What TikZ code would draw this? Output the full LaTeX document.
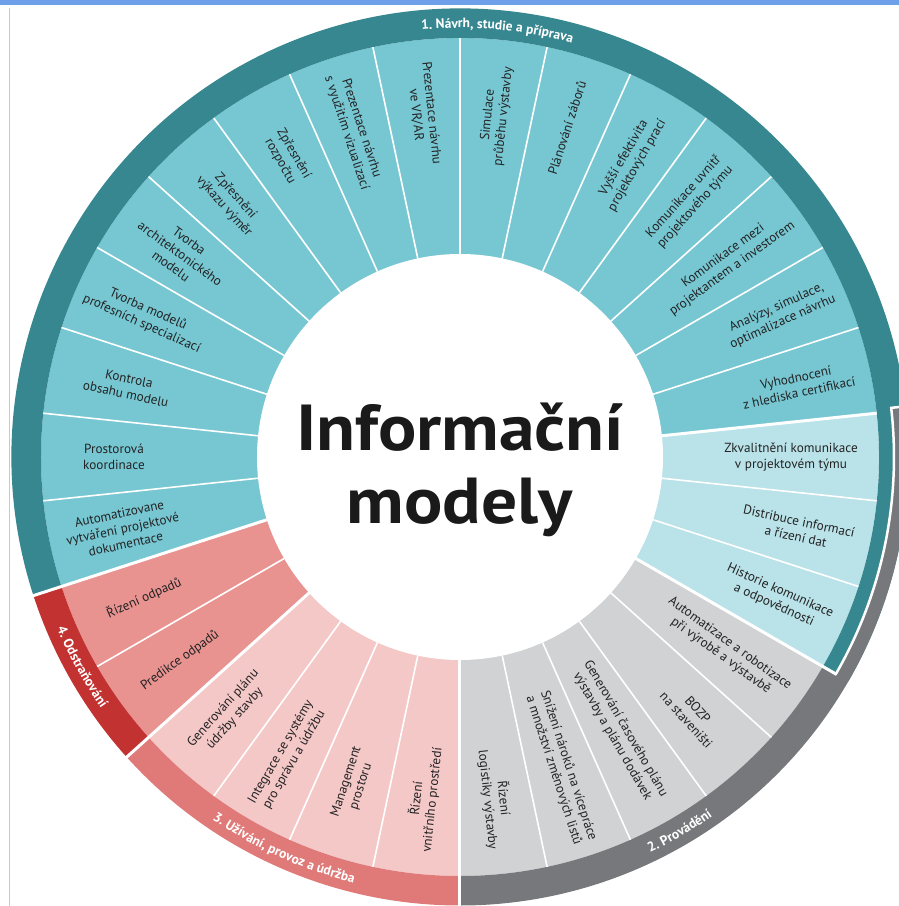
\documentclass[tikz,border=0pt]{standalone}
\usepackage{fontspec}
\setmainfont{PT Sans}
\usetikzlibrary{decorations.text}
\definecolor{segTeal}{RGB}{119,199,211}
\definecolor{segPale}{RGB}{186,226,233}
\definecolor{segGrey}{RGB}{209,210,212}
\definecolor{segPink}{RGB}{245,200,200}
\definecolor{segRed}{RGB}{233,147,145}
\definecolor{bandTeal}{RGB}{54,135,144}
\definecolor{bandGrey}{RGB}{119,120,124}
\definecolor{bandPink}{RGB}{224,122,121}
\definecolor{bandRed}{RGB}{194,50,48}
\definecolor{segText}{RGB}{35,35,35}
\definecolor{centerText}{RGB}{26,26,26}
\definecolor{topBlue}{RGB}{110,160,233}
\definecolor{leftGrey}{RGB}{200,200,200}
\newcommand{\bandfmt}{\color{white}\bfseries\fontsize{13.5}{15}\selectfont}
\begin{document}
\begin{tikzpicture}[x=1pt,y=1pt,
  seg/.style={align=center, text=segText, font=\fontsize{13.2}{15.5}\selectfont, inner sep=0pt},
  thindiv/.style={white, line width=1.6pt},
  thickdiv/.style={white, line width=3pt},
  title/.style={anchor=base, inner sep=0pt, text=centerText, xscale=1.1, transform shape, font=\bfseries\fontsize{65}{65}\selectfont}]
\useasboundingbox (-460,-449) rectangle (439,457);
\fill[white] (-460,-449) rectangle (439,457);
\fill[topBlue] (-460,452) rectangle (439,457);
\draw[leftGrey, line width=1pt] (-450,449) -- (-450,-449);
% segment fills
\fill[segTeal] (0,0) -- (6:419pt) arc[start angle=6, end angle=198, radius=419pt] -- cycle;
\fill[segRed] (0,0) -- (198:419pt) arc[start angle=198, end angle=222, radius=419pt] -- cycle;
\fill[segPink] (0,0) -- (222:419pt) arc[start angle=222, end angle=270, radius=419pt] -- cycle;
\fill[segGrey] (0,0) -- (-90:419pt) arc[start angle=-90, end angle=-30, radius=419pt] -- cycle;
\fill[segPale] (0,0) -- (-30:419pt) arc[start angle=-30, end angle=6, radius=419pt] -- cycle;
% bands
\fill[bandTeal] (-30:419pt) arc[start angle=-30, end angle=198, radius=419pt] -- (198:448.5pt) arc[start angle=198, end angle=-30, radius=448.5pt] -- cycle;
\fill[bandRed] (198:419pt) arc[start angle=198, end angle=222, radius=419pt] -- (222:448.5pt) arc[start angle=222, end angle=198, radius=448.5pt] -- cycle;
\fill[bandPink] (222:419pt) arc[start angle=222, end angle=270, radius=419pt] -- (270:448.5pt) arc[start angle=270, end angle=222, radius=448.5pt] -- cycle;
\fill[bandGrey] (6.5:434pt) arc[start angle=6.5, end angle=-30, radius=434pt] -- (-30:419pt) arc[start angle=-30, end angle=-90, radius=419pt] -- (-90:448.5pt) arc[start angle=-90, end angle=6.5, radius=448.5pt] -- cycle;
\draw[white, line width=2.5pt] (6.5:450pt) -- (6.5:434pt) arc[start angle=6.5, end angle=-30, radius=434pt];
% dividers
\foreach \b in {18,30,42,54,66,78,90,102,114,126,138,150,162,174,186,210,234,246,258,282,294,306,318,342,354}
  \draw[thindiv] (\b:203pt) -- (\b:419pt);
\draw[thickdiv] (6:203pt) -- (6:419pt);
\draw[thickdiv] (-30:203pt) -- (-30:435pt);
\foreach \b in {198,222,270}
  \draw[thickdiv] (\b:203pt) -- (\b:450pt);
\fill[white] (0,0) circle[radius=203pt];
% centre title
\node[title] (title1) at (0,7) {Informační};
\node[title] (title2) at (0,-66) {modely};
% band labels
\path[decorate, decoration={text along path, text align=center, text={|\bandfmt|1. Návrh, studie a příprava}}]
  (105:429pt) arc[start angle=105, end angle=65, radius=429pt];
\path[decorate, decoration={text along path, text align=center, text={|\bandfmt|2. Provádění}}]
  (-79.6:439pt) arc[start angle=-79.6, end angle=-39.6, radius=439pt];
\path[decorate, decoration={text along path, text align=center, text={|\bandfmt|3. Užívání, provoz a údržba}}]
  (225.8:439pt) arc[start angle=225.8, end angle=265.8, radius=439pt];
\path[decorate, decoration={text along path, text align=center, text={|\bandfmt|4. Odstraňování}}]
  (197:438pt) arc[start angle=197, end angle=221, radius=438pt];
% segment labels, left half
\node[seg, rotate=-84] (s96) at (96:345pt) {Prezentace návrhu\\ve VR/AR};
\node[seg, rotate=-72] (s108) at (108:343pt) {Prezentace návrhu\\s využitím vizualizací};
\node[seg, rotate=-60] (s120) at (120:346pt) {Zpřesnění\\rozpočtu};
\node[seg, rotate=-48] (s132) at (132:344pt) {Zpřesnění\\výkazu výměr};
\node[seg, rotate=-36] (s144) at (144:346pt) {Tvorba\\architektonického\\modelu};
\node[seg, rotate=-24] (s156) at (156:345pt) {Tvorba modelů\\profesních specializací};
\node[seg, rotate=-12] (s168) at (168:340pt) {Kontrola\\obsahu modelu};
\node[seg, rotate=0] (s180) at (180:346pt) {Prostorová\\koordinace};
\node[seg, rotate=12] (s192) at (192:345pt) {Automatizovane\\vytváření projektové\\dokumentace};
\node[seg, rotate=24] (s204) at (204:346pt) {Řízení odpadů};
\node[seg, rotate=36] (s216) at (216:346pt) {Predikce odpadů};
\node[seg, rotate=48] (s228) at (228:345pt) {Generování plánu\\údržby stavby};
\node[seg, rotate=60] (s240) at (240:345pt) {Integrace se systémy\\pro správu a údržbu};
\node[seg, rotate=72] (s252) at (252:344pt) {Management\\prostoru};
\node[seg, rotate=84] (s264) at (264:344pt) {Řízení\\vnitřního prostředí};
% segment labels, right half
\node[seg, rotate=84] (s84) at (84:343pt) {Simulace\\průběhu výstavby};
\node[seg, rotate=72] (s72) at (72:346pt) {Plánování záborů};
\node[seg, rotate=60] (s60) at (60:341pt) {Vyšší efektivita\\projektových prací};
\node[seg, rotate=48] (s48) at (48:343pt) {Komunikace uvnitř\\projektového týmu};
\node[seg, rotate=36] (s36) at (36:331pt) {Komunikace mezi\\projektantem a investorem};
\node[seg, rotate=24] (s24) at (24:350pt) {Analýzy, simulace,\\optimalizace návrhu};
\node[seg, rotate=12] (s12) at (12:345pt) {Vyhodnocení\\z hlediska certifikací};
\node[seg, rotate=0] (s0) at (0:331pt) {Zkvalitnění komunikace\\v projektovém týmu};
\node[seg, rotate=-12] (sm12) at (-12:345pt) {Distribuce informací\\a řízení dat};
\node[seg, rotate=-24] (sm24) at (-24:347pt) {Historie komunikace\\a odpovědnosti};
\node[seg, rotate=-36] (sm36) at (-36:328pt) {Automatizace a robotizace\\při výrobě a výstavbě};
\node[seg, rotate=-48] (sm48) at (-48:347pt) {BOZP\\na staveništi};
\node[seg, rotate=-60] (sm60) at (-60:318pt) {Generování časového plánu\\výstavby a plánu dodávek};
\node[seg, rotate=-72] (sm72) at (-72:327pt) {Snížení nároků na vícepráce\\a množství změnových listů};
\node[seg, rotate=-84] (sm84) at (-84:344pt) {Řízení\\logistiky výstavby};
\end{tikzpicture}
\end{document}
